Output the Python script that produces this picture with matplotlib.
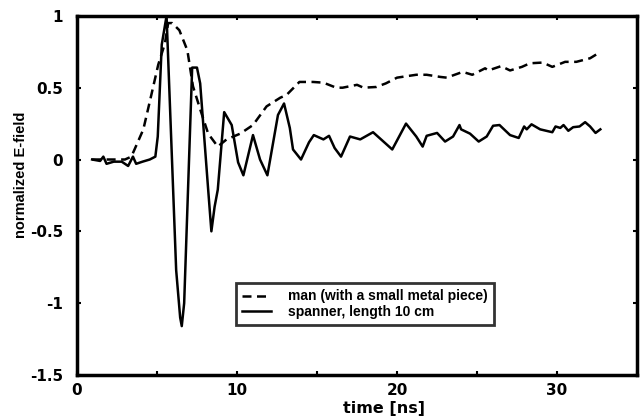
import matplotlib
matplotlib.use('Agg')
import matplotlib.pyplot as plt
from matplotlib.ticker import FixedLocator, FixedFormatter

plt.rcParams['font.family'] = ['DejaVu Sans']
plt.rcParams['font.weight'] = 'bold'

# spanner, length 10 cm (solid)
t_spanner = [0.95, 1.45, 1.65, 1.85, 2.3, 2.8, 3.2, 3.5, 3.7, 4.1, 4.55, 4.9, 5.05, 5.3, 5.6,
             6.2, 6.45, 6.55, 6.7, 7.2, 7.5, 7.7, 8.2, 8.4, 8.6, 8.8, 9.2, 9.67, 10.07, 10.4,
             11.0, 11.44, 11.9, 12.56, 12.94, 13.3, 13.5, 14.0, 14.5, 14.8, 15.4, 15.75, 16.1,
             16.5, 17.06, 17.7, 18.5, 19.7, 20.56, 21.2, 21.6, 21.85, 22.5, 23.0, 23.5, 23.9,
             24.0, 24.56, 25.1, 25.6, 26.0, 26.4, 27.06, 27.6, 27.94, 28.1, 28.4, 28.94, 29.7,
             29.9, 30.2, 30.4, 30.7, 31.0, 31.4, 31.75, 32.06, 32.4, 32.7]
e_spanner = [0.0, -0.01, 0.02, -0.03, -0.015, -0.015, -0.045, 0.02, -0.03, -0.015, 0.0, 0.02, 0.16, 0.8, 1.0,
             -0.77, -1.1, -1.16, -1.0, 0.64, 0.64, 0.53, -0.21, -0.5, -0.33, -0.21, 0.33, 0.24, -0.02, -0.11,
             0.17, 0.0, -0.11, 0.31, 0.39, 0.22, 0.07, 0.0, 0.12, 0.17, 0.14, 0.165, 0.08,
             0.02, 0.16, 0.14, 0.19, 0.07, 0.25, 0.16, 0.09, 0.165, 0.185, 0.125, 0.16, 0.24,
             0.21, 0.18, 0.125, 0.16, 0.235, 0.24, 0.17, 0.15, 0.23, 0.21, 0.245, 0.21, 0.19,
             0.23, 0.22, 0.24, 0.2, 0.225, 0.23, 0.26, 0.23, 0.185, 0.21]

# man (with a small metal piece) (dashed)
t_man = [0.95, 2.0, 3.0, 3.4, 3.6, 4.15, 4.67, 5.08, 5.5, 5.7, 5.95, 6.4, 6.9, 7.25, 7.7, 8.2,
         8.8, 9.35, 10.2, 11.0, 11.85, 12.7, 13.1, 13.9, 14.75, 15.4, 16.2, 16.6, 17.5, 17.9,
         18.7, 19.3, 20.0, 20.6, 21.2, 21.85, 22.7, 23.1, 24.1, 24.7, 25.5, 25.7, 26.5, 27.06,
         27.8, 28.3, 29.1, 29.7, 30.5, 31.2, 32.06, 32.5]
e_man = [0.0, 0.0, 0.0, 0.02, 0.07, 0.21, 0.46, 0.66, 0.81, 0.95, 0.95, 0.9, 0.76, 0.51, 0.35, 0.18,
         0.09, 0.14, 0.18, 0.24, 0.37, 0.43, 0.45, 0.54, 0.54, 0.535, 0.5, 0.5, 0.52, 0.5,
         0.505, 0.53, 0.57, 0.58, 0.59, 0.59, 0.575, 0.57, 0.61, 0.59, 0.635, 0.62, 0.65, 0.62,
         0.645, 0.67, 0.675, 0.645, 0.68, 0.68, 0.705, 0.735]

x_ticks = [0, 5, 10, 15, 20, 25, 30, 35]
x_tick_labels = ['0', '', '10', '', '20', '', '30', '']
y_ticks = [-1.5, -1, -0.5, 0, 0.5, 1]
y_tick_labels = ['-1.5', '-1', '-0.5', '0', '0.5', '1']

fig = plt.figure(figsize=(6.41, 4.18), dpi=100)
ax = fig.add_axes([0.120, 0.103, 0.874, 0.859])

ax.plot(t_man, e_man, color='black', lw=1.8, linestyle=(0, (3.6, 2.2)),
        label='man (with a small metal piece)')
ax.plot(t_spanner, e_spanner, color='black', lw=1.8, label='spanner, length 10 cm')

ax.set_xlim(0, 35)
ax.set_ylim(-1.5, 1)
ax.xaxis.set_major_locator(FixedLocator(x_ticks))
ax.xaxis.set_major_formatter(FixedFormatter(x_tick_labels))
ax.set_yticks(y_ticks)
ax.set_yticklabels(y_tick_labels)
ax.tick_params(direction='in', length=3, width=1.5, top=True, right=True, labelsize=11)
ax.tick_params(axis='x', pad=6)
ax.tick_params(axis='y', pad=10)
for lab in ax.get_xticklabels() + ax.get_yticklabels():
    lab.set_fontweight('bold')
for sp in ax.spines.values():
    sp.set_linewidth(2.5)

ax.set_xlabel('time [ns]', fontsize=11.5, fontweight='bold')
ax.xaxis.set_label_coords(0.548, -0.072)
ax.set_ylabel('normalized E-field', fontsize=10.5, fontweight='bold',
              family=['Liberation Sans', 'DejaVu Sans'])
ax.yaxis.set_label_coords(-0.088, 0.557)

leg = ax.legend(loc='lower left', bbox_to_anchor=(0.284, 0.139),
                prop={'family': ['Liberation Sans', 'DejaVu Sans'], 'weight': 'bold', 'size': 10},
                frameon=True, fancybox=False, borderpad=0.45, labelspacing=0.1,
                handlelength=2.1, handletextpad=1.2, borderaxespad=0)
leg.get_frame().set_edgecolor('black')
leg.get_frame().set_linewidth(2)

fig.savefig('out.png', dpi=100)
